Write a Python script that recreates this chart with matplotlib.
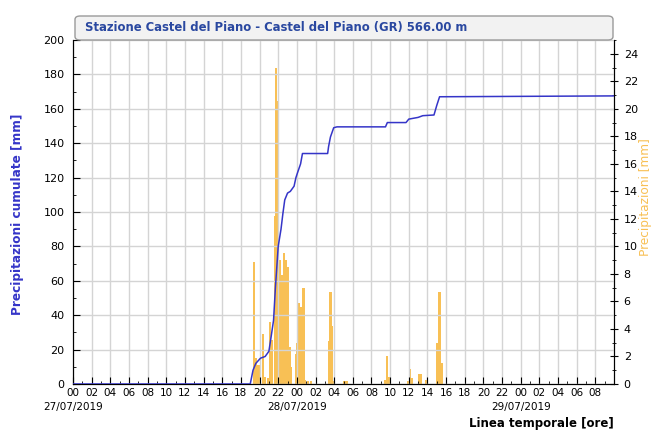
import matplotlib
matplotlib.use("Agg")
import matplotlib.pyplot as plt
from matplotlib.patches import FancyBboxPatch
from matplotlib.ticker import MultipleLocator
from matplotlib.transforms import blended_transform_factory

# hours since 27/07/2019 00:00
cum_hours = [0, 19.0, 19.3, 19.6, 20.1, 20.6, 21.0, 21.2, 21.5, 21.7, 22.0, 22.3, 22.5,
             22.7, 23.0, 23.3, 23.7, 23.9, 24.05, 24.4, 24.6, 27.3, 27.4, 27.6, 27.95,
             28.3, 33.5, 33.7, 35.7, 36.0, 37.0, 37.5, 38.7, 39.0, 39.3, 58]
cum_mm = [0, 0, 8, 12, 15, 16, 19, 26, 37, 56, 80, 90, 99, 107, 111, 112, 115, 120,
          122.5, 128, 134, 134, 138, 143.6, 149, 149.5, 149.5, 152, 152, 154, 155, 156,
          156.4, 162, 167, 167.5]

bar_hours = [19.4, 19.6, 19.9, 20.4, 20.6, 20.9, 21.1, 21.3, 21.65, 21.8, 22.0, 22.2,
             22.4, 22.6, 22.8, 23.0, 23.2, 23.4, 23.9, 24.05, 24.2, 24.5, 24.7, 24.9,
             25.2, 25.5, 27.45, 27.6, 27.8, 28.0, 29.1, 29.4, 33.5, 33.7, 33.9, 35.9,
             36.1, 36.3, 37.1, 37.3, 37.9, 39.0, 39.3, 39.6]
bar_mm = [8.9, 1.9, 1.4, 3.6, 0.5, 0.4, 4.5, 3.2, 12.2, 23.0, 20.6, 9.0, 7.9, 9.5, 9.0,
          8.5, 2.7, 1.2, 2.2, 3.0, 5.9, 5.6, 7.0, 0.3, 0.2, 0.2, 3.1, 6.7, 4.2, 0.2, 0.2,
          0.2, 0.3, 2.0, 0.5, 0.2, 1.1, 0.4, 0.7, 0.7, 0.3, 3.0, 6.7, 1.5]

dates = ["27/07/2019", "28/07/2019", "29/07/2019"]
title = "Stazione Castel del Piano - Castel del Piano (GR) 566.00 m"

blue = "#3535c8"
orange = "#f8c055"

plt.rcParams["font.family"] = "DejaVu Sans"
fig = plt.figure(figsize=(6.54, 4.3), dpi=100)
ax = fig.add_axes([73 / 654, 1 - 384 / 430, 541 / 654, 344 / 430])
ax2 = ax.twinx()

# bars on the right axis, cumulative line on top
ax.set_zorder(ax2.get_zorder() + 1)
ax.patch.set_visible(False)
ax2.bar(bar_hours, bar_mm, width=0.24, color=orange, zorder=2)
ax.plot(cum_hours, cum_mm, color=blue, lw=1.1, zorder=3)

ax.set_xlim(0, 58)
ax.set_ylim(0, 200)
ax2.set_ylim(0, 25)

# x ticks: every 2 hours, dates under midnight
xt = list(range(0, 58, 2))
ax.set_xticks(xt)
ax.set_xticklabels(["%02d" % (h % 24) for h in xt], fontsize=7.5)
ax.xaxis.set_minor_locator(MultipleLocator(1))
ax.tick_params(axis="x", which="major", direction="in", length=5, pad=3)
ax.tick_params(axis="x", which="minor", direction="in", length=2.5)
trans = blended_transform_factory(ax.transData, ax.transAxes)
for i, d in enumerate(dates):
    ax.text(24 * i, -0.068, d, transform=trans, fontsize=7.5, ha="center", va="center")

ax.set_yticks(range(0, 201, 20))
ax.yaxis.set_minor_locator(MultipleLocator(10))
ax.tick_params(axis="y", which="major", labelsize=8, direction="in", length=5, pad=6)
ax.tick_params(axis="y", which="minor", direction="in", length=2.5)
ax2.set_yticks(range(0, 25, 2))
ax2.yaxis.set_minor_locator(MultipleLocator(1))
ax2.tick_params(axis="y", which="major", direction="inout", length=6, labelsize=8, pad=4)
ax2.tick_params(axis="y", which="minor", direction="inout", length=3)

ax.grid(True, color="#d4d4d4", lw=1)
ax.set_axisbelow(True)
for a in (ax, ax2):
    a.spines["top"].set_visible(False)

# title box
box = FancyBboxPatch((75 / 654, 1 - 40 / 430), 538 / 654, 24 / 430,
                     boxstyle="round,pad=0,rounding_size=0.008",
                     transform=fig.transFigure, facecolor="#f2f2f2",
                     edgecolor="#9a9a9a", lw=1)
fig.patches.append(box)
fig.text(85 / 654, 1 - 28 / 430, title, fontsize=8.4, fontweight="bold",
         color="#2a48a0", va="center", ha="left")

fig.text(18 / 654, 1 - 214 / 430, "Precipitazioni cumulate [mm]", rotation=90,
         color=blue, fontsize=8.7, fontweight="bold", ha="center", va="center")
fig.text(645 / 654, 1 - 197 / 430, "Precipitazioni [mm]", rotation=90,
         color=orange, fontsize=8.7, ha="center", va="center")
fig.text(614 / 654, 1 - 423 / 430, "Linea temporale [ore]", fontsize=8.5,
         fontweight="bold", ha="right", va="center")

fig.savefig("out.png", dpi=100)
